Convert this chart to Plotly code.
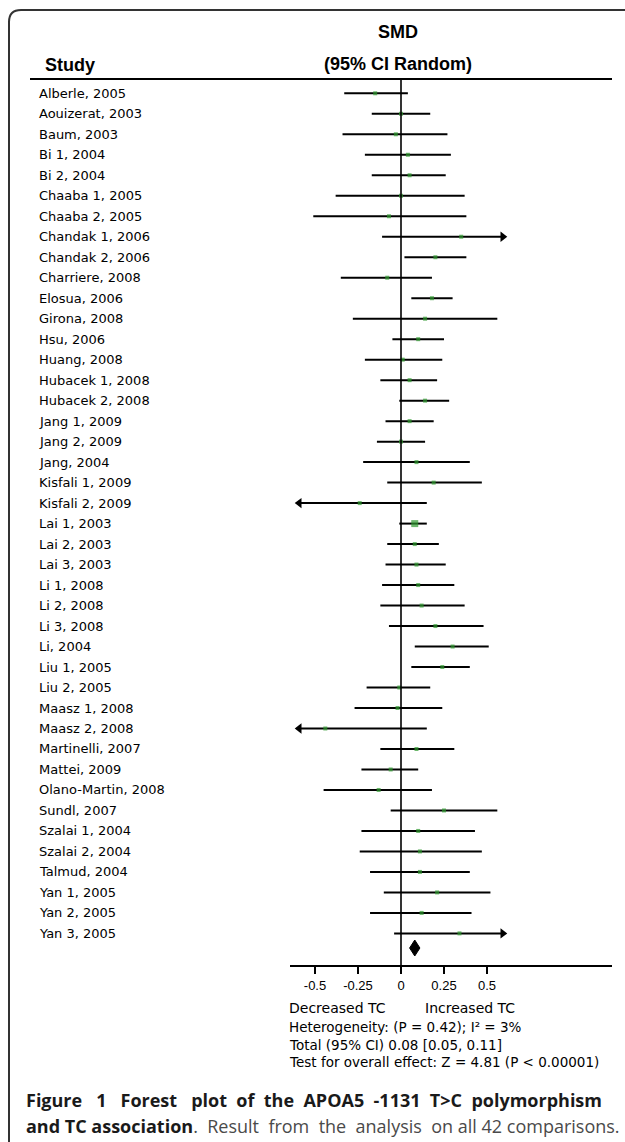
import plotly.graph_objects as go

# ---------------- data ----------------
studies = [
    "Alberle, 2005", "Aouizerat, 2003", "Baum, 2003", "Bi 1, 2004", "Bi 2, 2004",
    "Chaaba 1, 2005", "Chaaba 2, 2005", "Chandak 1, 2006", "Chandak 2, 2006",
    "Charriere, 2008", "Elosua, 2006", "Girona, 2008", "Hsu, 2006", "Huang, 2008",
    "Hubacek 1, 2008", "Hubacek 2, 2008", "Jang 1, 2009", "Jang 2, 2009",
    "Jang, 2004", "Kisfali 1, 2009", "Kisfali 2, 2009", "Lai 1, 2003",
    "Lai 2, 2003", "Lai 3, 2003", "Li 1, 2008", "Li 2, 2008", "Li 3, 2008",
    "Li, 2004", "Liu 1, 2005", "Liu 2, 2005", "Maasz 1, 2008", "Maasz 2, 2008",
    "Martinelli, 2007", "Mattei, 2009", "Olano-Martin, 2008", "Sundl, 2007",
    "Szalai 1, 2004", "Szalai 2, 2004", "Talmud, 2004", "Yan 1, 2005",
    "Yan 2, 2005", "Yan 3, 2005",
]
smd = [
    -0.15, 0.00, -0.03, 0.04, 0.05, 0.00, -0.07, 0.35, 0.20, -0.08,
    0.18, 0.14, 0.10, 0.01, 0.05, 0.14, 0.05, 0.00, 0.09, 0.19,
    -0.24, 0.08, 0.08, 0.09, 0.10, 0.12, 0.20, 0.30, 0.24, -0.01,
    -0.02, -0.44, 0.09, -0.06, -0.13, 0.25, 0.10, 0.11, 0.11, 0.21,
    0.12, 0.34,
]
ci_low = [
    -0.33, -0.17, -0.34, -0.21, -0.17, -0.38, -0.51, -0.11, 0.02, -0.35,
    0.06, -0.28, -0.05, -0.21, -0.12, -0.01, -0.09, -0.14, -0.22, -0.08,
    -0.63, -0.01, -0.08, -0.09, -0.11, -0.12, -0.07, 0.08, 0.06, -0.20,
    -0.27, -1.03, -0.12, -0.23, -0.45, -0.06, -0.23, -0.24, -0.18, -0.10,
    -0.18, -0.04,
]
ci_high = [
    0.04, 0.17, 0.27, 0.29, 0.26, 0.37, 0.38, 0.82, 0.38, 0.18,
    0.30, 0.56, 0.25, 0.24, 0.21, 0.28, 0.19, 0.14, 0.40, 0.47,
    0.15, 0.15, 0.22, 0.26, 0.31, 0.37, 0.48, 0.51, 0.40, 0.17,
    0.24, 0.15, 0.31, 0.10, 0.18, 0.56, 0.43, 0.47, 0.40, 0.52,
    0.41, 0.72,
]
total_smd, total_low, total_high = 0.08, 0.05, 0.11
tick_vals = [-0.5, -0.25, 0, 0.25, 0.5]
tick_text = ["-0.5", "-0.25", "0", "0.25", "0.5"]
footer_lines = [
    "Heterogeneity: (P = 0.42); I\u00b2 = 3%",
    "Total (95% CI) 0.08 [0.05, 0.11]",
    "Test for overall effect: Z = 4.81 (P < 0.00001)",
]
caption_line1 = "Figure 1 Forest plot of the APOA5 -1131 T>C polymorphism"
caption_bold2 = "and TC association"
caption_rest2 = ". Result from the analysis on all 42 comparisons."

# ---------------- geometry ----------------
W, H = 625, 1142
ROW0, ROWH = 93.3, 20.49
X0PX, X1PX, ZERO_PX, UNIT = 290, 612, 401, 172.0
CLIP = 0.615
FONT = "Liberation Sans, Arial, sans-serif"
VFONT = "DejaVu Sans, Verdana, sans-serif"
GREEN = "#2f9a2f"


def py(p):
    return (p - ROW0) / ROWH


def fx(p):
    return p / W


def fy(p):
    return 1 - p / H


def justify(s, extra_total):
    """Widen word gaps with non-breaking spaces to mimic justified text."""
    words = s.split(" ")
    gaps = len(words) - 1
    out = words[0]
    for g in range(gaps):
        n = extra_total // gaps + (1 if g % gaps < extra_total % gaps else 0)
        out += " " + "\u00a0" * n + words[g + 1]
    return out


xr = [(X0PX - ZERO_PX) / UNIT, (X1PX - ZERO_PX) / UNIT]

fig = go.Figure()

# CI lines (clipped to the display range)
lx, ly = [], []
arr_r_x, arr_r_y, arr_l_x, arr_l_y = [], [], [], []
ah = 4 / UNIT
for i, (lo, hi) in enumerate(zip(ci_low, ci_high)):
    lo_c = max(lo, -CLIP)
    hi_c = min(hi, CLIP)
    if hi > CLIP:
        arr_r_x.append(CLIP - ah)
        arr_r_y.append(i)
        hi_c = CLIP - ah
    if lo < -CLIP:
        arr_l_x.append(-CLIP + ah)
        arr_l_y.append(i)
        lo_c = -CLIP + ah
    lx += [lo_c, hi_c, None]
    ly += [i, i, None]

fig.add_trace(go.Scatter(x=lx, y=ly, mode="lines",
                         line=dict(color="black", width=2), hoverinfo="skip"))
fig.add_trace(go.Scatter(x=arr_r_x, y=arr_r_y, mode="markers",
                         marker=dict(symbol="triangle-right", size=9, color="black"),
                         hoverinfo="skip"))
fig.add_trace(go.Scatter(x=arr_l_x, y=arr_l_y, mode="markers",
                         marker=dict(symbol="triangle-left", size=9, color="black"),
                         hoverinfo="skip"))

sizes = [4] * len(studies)
sizes[studies.index("Lai 1, 2003")] = 7
fig.add_trace(go.Scatter(x=smd, y=list(range(len(studies))), mode="markers",
                         marker=dict(symbol="square", size=sizes, color=GREEN,
                                     line=dict(width=0)),
                         text=studies, hoverinfo="text+x"))

# pooled diamond
yd = py(948)
hd = 8 / ROWH
fig.add_trace(go.Scatter(
    x=[total_low, total_smd, total_high, total_smd, total_low],
    y=[yd, yd - hd, yd, yd + hd, yd],
    mode="lines", fill="toself", fillcolor="black",
    line=dict(color="black", width=1), hoverinfo="skip"))

shapes = [
    dict(type="line", xref="x", yref="y", x0=0, x1=0, y0=py(79), y1=py(966),
         line=dict(color="black", width=1.6)),
    dict(type="line", xref="paper", yref="paper", x0=fx(30), x1=fx(612),
         y0=fy(79), y1=fy(79), line=dict(color="black", width=2)),
    dict(type="path", xref="paper", yref="paper",
         path=(f"M {fx(9)},{fy(1150)} L {fx(9)},{fy(22)} "
               f"Q {fx(9)},{fy(10)} {fx(21)},{fy(10)} L {fx(630)},{fy(10)}"),
         line=dict(color="#333333", width=2)),
]

ann = []
for i, s in enumerate(studies):
    ann.append(dict(x=fx(37), y=i, xref="paper", yref="y", text=s,
                    xanchor="left",
                    font=dict(family=VFONT, size=13, color="black")))

hdr = dict(family=FONT, size=18, color="black")
ann += [
    dict(x=fx(398), y=fy(32), text="<b>SMD</b>", font=hdr),
    dict(x=fx(398), y=fy(64), text="<b>(95% CI Random)</b>", font=hdr),
    dict(x=fx(43), y=fy(65), text="<b>Study</b>", font=hdr, xanchor="left"),
    dict(x=fx(287), y=fy(1008), text="Decreased TC", xanchor="left",
         font=dict(family=VFONT, size=14, color="black")),
    dict(x=fx(423), y=fy(1008), text="Increased TC", xanchor="left",
         font=dict(family=VFONT, size=14, color="black")),
]
for k, t in enumerate(footer_lines):
    ann.append(dict(x=fx(287), y=fy(1027 + 17.5 * k), text=t, xanchor="left",
                    font=dict(family=VFONT, size=13.5, color="black")))

cap = dict(family="Open Sans, Noto Sans, sans-serif", size=18)
ann += [
    dict(x=fx(24), y=fy(1100), xanchor="left",
         text="<b>" + justify(caption_line1, 12) + "</b>",
         font=dict(color="#1a1a1a", **cap)),
    dict(x=fx(24), y=fy(1126), xanchor="left",
         text=("<b><span style='color:#1a1a1a'>" + caption_bold2 + "</span></b>"
               + justify(caption_rest2, 5)),
         font=dict(color="#4a4a4a", **cap)),
]
for a in ann:
    a.setdefault("xref", "paper")
    a.setdefault("yref", "paper")
    a.setdefault("showarrow", False)
    a.setdefault("yanchor", "middle")
    a.setdefault("xanchor", "center")

fig.update_layout(
    width=W, height=H, margin=dict(l=0, r=0, t=0, b=0),
    paper_bgcolor="white", plot_bgcolor="white", showlegend=False,
    shapes=shapes, annotations=ann,
    xaxis=dict(domain=[fx(X0PX), fx(X1PX)], range=xr, anchor="free",
               position=fy(966), showline=True, linecolor="black", linewidth=2,
               ticks="outside", ticklen=7, tickwidth=2, tickcolor="black",
               tickvals=tick_vals, ticktext=tick_text, showgrid=False,
               zeroline=False, tickfont=dict(family=FONT, size=13, color="black")),
    yaxis=dict(domain=[0, 1], range=[py(H), py(0)], visible=False,
               showgrid=False, zeroline=False),
)

fig.write_html("out.html",
               config={"displayModeBar": False},
               post_script="document.body.style.margin='0';"
                           "document.body.style.padding='0';")
